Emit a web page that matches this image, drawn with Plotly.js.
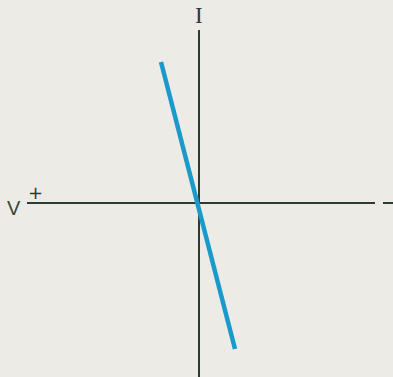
<!DOCTYPE html>
<html>
<head>
<meta charset="utf-8">
<script src="https://cdn.plot.ly/plotly-3.0.1.min.js"></script>
<style>
html,body{margin:0;padding:0;background:#ecebe6;}
#chart{width:393px;height:377px;}
</style>
</head>
<body>
<div id="chart"></div>
<script>
// Characteristic line (V, I) — negative slope through origin
const lineV = [-0.95, 0.9];
const lineI = [3.525, -3.65];
// Axis extents (in data units)
const vAxisX = [-4.3, 4.4];
const vAxisTailX = [4.6, 4.9];
const iAxisY = [4.325, -4.4];
const xRange = [-4.975, 4.85];
const yRange = [-4.35, 5.075];

const axisColor = '#2e3a34';
const traces = [
  {x: vAxisX, y: [0, 0], mode: 'lines', line: {color: axisColor, width: 2}, hoverinfo: 'skip'},
  {x: vAxisTailX, y: [0, 0], mode: 'lines', line: {color: axisColor, width: 2}, hoverinfo: 'skip'},
  {x: [0, 0], y: iAxisY, mode: 'lines', line: {color: axisColor, width: 2}, hoverinfo: 'skip'},
  {x: lineV, y: lineI, mode: 'lines', line: {color: '#1a9acb', width: 4.5}, hoverinfo: 'skip'}
];

const layout = {
  width: 393, height: 377,
  margin: {l: 0, r: 0, t: 0, b: 0},
  paper_bgcolor: '#ecebe6',
  plot_bgcolor: '#ecebe6',
  showlegend: false,
  xaxis: {range: xRange, visible: false, fixedrange: true},
  yaxis: {range: yRange, visible: false, fixedrange: true},
  annotations: [
    {x: 0, y: 4.68, xref: 'x', yref: 'y', text: 'I', showarrow: false,
     font: {family: 'Liberation Serif, serif', size: 23, color: axisColor}},
    {x: -4.63, y: -0.12, xref: 'x', yref: 'y', text: 'V', showarrow: false,
     font: {family: 'Liberation Sans, sans-serif', size: 20, color: '#3a4640'}},
    {x: -4.09, y: 0.27, xref: 'x', yref: 'y', text: '+', showarrow: false,
     font: {family: 'DejaVu Sans, sans-serif', size: 18, color: axisColor}}
  ]
};

Plotly.newPlot('chart', traces, layout, {displayModeBar: false, staticPlot: true});
</script>
</body>
</html>
